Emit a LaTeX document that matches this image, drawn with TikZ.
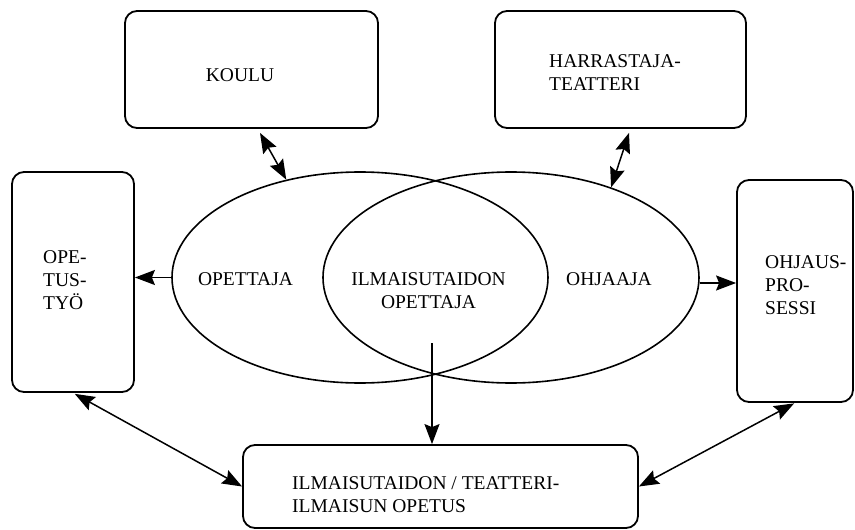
\documentclass[tikz,border=0pt]{standalone}
\usepackage{fontspec}
\setmainfont{Liberation Serif}
\usetikzlibrary{shapes.geometric,arrows.meta,calc}
\tikzset{
  box/.style={draw, line width=1.8pt, rounded corners=12pt, inner sep=0pt},
  oval/.style={draw, ellipse, line width=1.6pt, inner sep=0pt, minimum width=376pt, minimum height=211pt},
  lbl/.style={inner sep=0pt, align=left, font=\fontsize{19.5}{23}\selectfont},
  tip/.style={},
  conn/.style={line width=1.5pt, -{Stealth[length=20pt,width=15pt,inset=3pt]}},
  dconn/.style={line width=1.5pt, {Stealth[length=20pt,width=15pt,inset=3pt]}-{Stealth[length=20pt,width=15pt,inset=3pt]}}
}
\begin{document}
\begin{tikzpicture}[x=1pt,y=-1pt]
\useasboundingbox (0,0) rectangle (855,530);
% boxes
\node[box, minimum width=253pt, minimum height=117pt] (koulu) at (251.5,69.5) {};
\node[box, minimum width=251pt, minimum height=117pt] (harr) at (620.5,69.5) {};
\node[box, minimum width=122pt, minimum height=220pt] (optb) at (73,282) {};
\node[box, minimum width=116pt, minimum height=222pt] (ohj) at (795,291) {};
\node[box, minimum width=395pt, minimum height=83pt] (bot) at (440.5,486.5) {};
% ellipses
\node[oval] (elL) at (360,277.5) {};
\node[oval] (elR) at (511,277.5) {};
% texts
\node[lbl] (tkoulu) at (240,75) {KOULU};
\node[lbl, anchor=west] (tharr) at (549,72.5) {HARRASTAJA-\\TEATTERI};
\node[lbl, anchor=west] (topt) at (43,280.5) {OPE-\\TUS-\\TYÖ};
\node[lbl, anchor=west] (tohj) at (765,285.5) {OHJAUS-\\PRO-\\SESSI};
\node[lbl, anchor=west] (tbot) at (292,494.5) {ILMAISUTAIDON / TEATTERI-\\ILMAISUN OPETUS};
\node[lbl] (topettaja) at (245.5,279) {OPETTAJA};
\node[lbl, align=center] (tilm) at (428.5,291) {ILMAISUTAIDON\\OPETTAJA};
\node[lbl] (tohjaaja) at (609,279) {OHJAAJA};
% connectors
\draw[dconn] ($(koulu.south)+(8.5,4)$) -- (elL.127);
\draw[dconn] ($(harr.south)+(8.5,4)$) -- (elR.42);
\draw[conn] (elL.west) -- (elL.west -| optb.east);
\draw[conn] ([yshift=-5.5pt]elR.east) -- ([yshift=-5.5pt]elR.east -| ohj.west);
\coordinate (vs) at (432,343);
\draw[conn] (vs) -- (vs |- bot.north);
\draw[dconn, shorten <=2pt] (optb.south) -- (bot.west);
\draw[dconn, shorten <=1pt] (ohj.south) -- (bot.east);
\end{tikzpicture}
\end{document}
